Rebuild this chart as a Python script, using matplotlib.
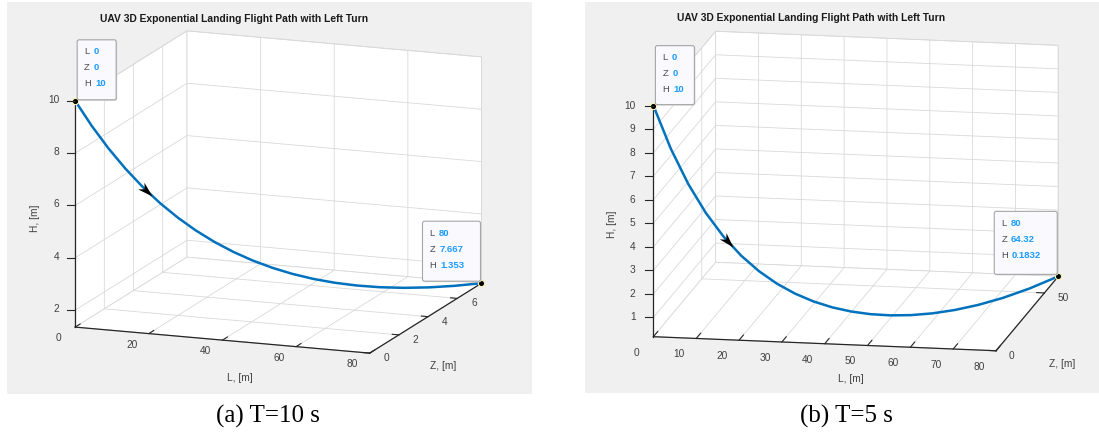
import numpy as np
import matplotlib as mpl
mpl.use('Agg')
import matplotlib.pyplot as plt
from matplotlib.patches import Rectangle, FancyBboxPatch
from matplotlib.lines import Line2D
from matplotlib.path import Path
from matplotlib.markers import MarkerStyle
from matplotlib.transforms import Affine2D, IdentityTransform
from mpl_toolkits.mplot3d import proj3d

plt.rcParams['font.family'] = ['Liberation Sans', 'DejaVu Sans']
plt.rcParams['grid.color'] = '#d9d9d9'
plt.rcParams['grid.linewidth'] = 0.6

# ---------------- data ----------------
L = [0, 4, 8, 12, 16, 20, 24, 28, 32, 36, 40, 44, 48, 52, 56, 60, 64, 68, 72, 76, 80]

# (a) T = 10 s
H_10 = [10.0, 9.048, 8.187, 7.408, 6.703, 6.065, 5.488, 4.966, 4.493, 4.066, 3.679,
        3.329, 3.012, 2.725, 2.466, 2.231, 2.019, 1.827, 1.653, 1.496, 1.353]
Z_10 = [0.0, 0.126, 0.266, 0.420, 0.590, 0.778, 0.987, 1.216, 1.471, 1.752, 2.062,
        2.405, 2.784, 3.203, 3.666, 4.178, 4.744, 5.369, 6.060, 6.823, 7.667]

# (b) T = 5 s
H_5 = [10.0, 8.187, 6.703, 5.488, 4.493, 3.679, 3.012, 2.466, 2.019, 1.653, 1.353,
       1.108, 0.907, 0.743, 0.608, 0.498, 0.408, 0.334, 0.273, 0.224, 0.1832]
Z_5 = [0.0, 0.266, 0.590, 0.987, 1.471, 2.062, 2.784, 3.666, 4.744, 6.060, 7.667,
       9.630, 12.028, 14.956, 18.534, 22.903, 28.239, 34.757, 42.718, 52.441, 64.32]

L_ticks_a = [0, 20, 40, 60, 80]
Z_ticks_a = [0, 2, 4, 6]
H_ticks_a = [2, 4, 6, 8, 10]
L_ticks_b = [0, 10, 20, 30, 40, 50, 60, 70, 80]
Z_ticks_b = [0, 50]
H_ticks_b = [1, 2, 3, 4, 5, 6, 7, 8, 9, 10]

tip_names = ['L', 'Z', 'H']
tip_start = ['0', '0', '10']
tip_end_a = ['80', '7.667', '1.353']
tip_end_b = ['80', '64.32', '0.1832']

title = 'UAV 3D Exponential Landing Flight Path with Left Turn'
captions = ['(a) T=10 s', '(b) T=5 s']

# ---------------- layout (pixels, image coords, y down) ----------------
panels = [
    dict(H=H_10, Z=Z_10, lt=L_ticks_a, zt=Z_ticks_a, ht=H_ticks_a, end=tip_end_a, cap=captions[0],
         elev=13.6, azim=-69.4, aspect=(1, 1.01, 0.74),
         target=[(76, 327), (370, 353), (482, 283), (76, 100), (184, 32), (482, 57)],
         bg=(7, 2, 532, 394), title_xy=(234, 19), cap_xy=(268, 416),
         hlab=(35, 218), llab=(240, 378), zlab=(443, 366),
         tip0=(39, 60), tip1=(58, 60), tick_out=(0.55, 0.28),
         loff=(-17, 11), zoff=(14, 5), hoff=(-16, -1)),
    dict(H=H_5, Z=Z_5, lt=L_ticks_b, zt=Z_ticks_b, ht=H_ticks_b, end=tip_end_b, cap=captions[1],
         elev=12.8, azim=-79.5, aspect=(1, 0.98, 0.68),
         target=[(654, 337), (996, 351), (1058, 277), (654, 105), (715, 32), (1058, 44)],
         bg=(585, 2, 1099, 393), title_xy=(811, 18), cap_xy=(846, 416),
         hlab=(612, 224), llab=(851, 379), zlab=(1062, 364),
         tip0=(39, 59), tip1=(63, 63), tick_out=(0.87, 0.28),
         loff=(-17, 16), zoff=(13, 5), hoff=(-18, 0)),
]

W, HPX = 1099, 432
fig = plt.figure(figsize=(W / 100, HPX / 100), dpi=100, facecolor='white')

blue = '#0072bd'
dark = '#262626'
txt = '#404040'
PIX = IdentityTransform()


def to_px(ax, pts):
    xs, ys, zs = np.asarray(pts, float).T
    x2, y2, _ = proj3d.proj_transform(xs, ys, zs, ax.get_proj())
    return ax.transData.transform(np.column_stack([x2, y2]))


def fit(ax, pts, target):
    # scale / shift the (square) 3d axes so the box corners land on the target pixels
    fig.canvas.draw()
    p = to_px(ax, pts)
    t = np.array([(x, HPX - y) for x, y in target], float)
    bb = ax.get_position().transformed(fig.transFigure)
    c = np.array([bb.x0 + bb.width / 2, bb.y0 + bb.height / 2])
    q = (p - c) / bb.width
    qm, tm = q.mean(0), t.mean(0)
    s = ((q - qm) * (t - tm)).sum() / ((q - qm) ** 2).sum()
    c = tm - s * qm
    ax.set_position([(c[0] - s / 2) / W, (c[1] - s / 2) / HPX, s / W, s / HPX])


def ticklabel(p, off, s, ha):
    fig.text(p[0] + off[0], p[1] - off[1], s, transform=PIX, ha=ha, va='center',
             size=7.3, color=txt)


def datatip(x0, ytop, w, h, vals):
    sh = FancyBboxPatch((x0 + 1, ytop - h - 1), w, h, boxstyle='round,pad=0,rounding_size=2',
                        transform=PIX, fc='#d6d6d6', ec='none', zorder=5)
    box = FancyBboxPatch((x0, ytop - h), w, h, boxstyle='round,pad=0,rounding_size=2',
                         transform=PIX, fc='#f9f9fe', ec='#a6a6a6', lw=0.8, zorder=6)
    fig.add_artist(sh)
    fig.add_artist(box)
    r = fig.canvas.get_renderer()
    for k, (nm, v) in enumerate(zip(tip_names, vals)):
        yy = ytop - 12 - 16 * k
        t1 = fig.text(x0 + 7, yy, nm, transform=PIX, color='#4d4d4d',
                      size=6.8, va='center', zorder=7)
        bb = t1.get_window_extent(r)
        fig.text(bb.x1 + 4, yy, v, transform=PIX, color='#1a9bff',
                 size=6.8, weight='bold', va='center', zorder=7)


for P in panels:
    x0, y0, x1, y1 = P['bg']
    fig.add_artist(Rectangle((x0 / W, 1 - y1 / HPX), (x1 - x0) / W, (y1 - y0) / HPX,
                             transform=fig.transFigure, fc='#f0f0f0', ec='none', zorder=-1))

    ax = fig.add_axes([0.1, 0.1, 0.3, 0.3], projection='3d')
    ax.set_proj_type('ortho')
    ax.computed_zorder = False
    ax.set_facecolor((0, 0, 0, 0))
    ax.view_init(elev=P['elev'], azim=P['azim'])
    ax.set_box_aspect(P['aspect'])

    Hs, Zs = P['H'], P['Z']
    ax.plot(L, Zs, Hs, color=blue, lw=1.8, zorder=2)

    ax.set_xlim(L[0], L[-1])
    ax.set_ylim(0, Zs[-1])
    ax.set_zlim(Hs[-1], Hs[0])
    ax.set_xticks(P['lt'])
    ax.set_yticks(P['zt'])
    ax.set_zticks(P['ht'])
    ax.set_xticklabels([''] * len(P['lt']))
    ax.set_yticklabels([''] * len(P['zt']))
    ax.set_zticklabels([''] * len(P['ht']))
    ax.zaxis.set_ticks_position('lower')

    for axis, fo in zip((ax.xaxis, ax.yaxis, ax.zaxis), P['tick_out'] + (0.0,)):
        axis.set_pane_color((1, 1, 1, 1))
        axis.pane.set_edgecolor('#d9d9d9')
        axis.pane.set_linewidth(0.6)
        axis.line.set_color(dark)
        axis.line.set_linewidth(0.9)
        axis._axinfo['tick'] = {**axis._axinfo['tick'], 'inward_factor': 0.0, 'outward_factor': fo}
    ax.tick_params(axis='both', color=dark)

    corners = [(L[0], 0, Hs[-1]), (L[-1], 0, Hs[-1]), (L[-1], Zs[-1], Hs[-1]),
               (L[0], 0, Hs[0]), (L[0], Zs[-1], Hs[0]), (L[-1], Zs[-1], Hs[0])]
    fit(ax, corners, P['target'])

    # tick labels (and the H tick marks) placed next to the projected tick positions
    for v, p in zip(P['lt'], to_px(ax, [(v, 0, Hs[-1]) for v in P['lt']])):
        ticklabel(p, P['loff'], str(v), 'center')
    for v, p in zip(P['zt'], to_px(ax, [(L[-1], v, Hs[-1]) for v in P['zt']])):
        ticklabel(p, P['zoff'], str(v), 'left')
    for v, p in zip(P['ht'], to_px(ax, [(L[0], 0, v) for v in P['ht']])):
        ticklabel(p, P['hoff'], str(v), 'right')
        fig.add_artist(Line2D([p[0] - 8, p[0]], [p[1], p[1]], transform=PIX, color=dark, lw=0.8))

    # direction arrow on the path
    pa, pb = to_px(ax, [(L[4], Zs[4], Hs[4]), (L[5], Zs[5], Hs[5])])
    ang = np.degrees(np.arctan2(pb[1] - pa[1], pb[0] - pa[0]))
    head = Path([(0, 0), (-1, 0.3), (-0.7, 0), (-1, -0.3), (0, 0)],
                [Path.MOVETO, Path.LINETO, Path.LINETO, Path.LINETO, Path.CLOSEPOLY])
    f = 0.55
    ax.plot([L[4] + f * (L[5] - L[4])], [Zs[4] + f * (Zs[5] - Zs[4])], [Hs[4] + f * (Hs[5] - Hs[4])],
            ls='none', marker=MarkerStyle(head, transform=Affine2D().rotate_deg(ang)),
            ms=22, color='k', mew=0, zorder=3)

    # data tip markers
    for i in (0, -1):
        ax.plot([L[i]], [Zs[i]], [Hs[i]], ls='none', marker='o', ms=4.5,
                mfc='k', mec='#fff5b8', mew=0.8, zorder=4)

    s0, s1 = to_px(ax, [(L[0], Zs[0], Hs[0]), (L[-1], Zs[-1], Hs[-1])])
    w0, h0 = P['tip0']
    datatip(s0[0] + 2, s0[1] + 1 + h0, w0, h0, tip_start)
    w1, h1 = P['tip1']
    datatip(s1[0] - 1 - w1, s1[1] + 2 + h1, w1, h1, P['end'])

    tx, ty = P['title_xy']
    fig.text(tx / W, 1 - ty / HPX, title, ha='center', va='center', size=7.4,
             weight='bold', color='#1a1a1a')
    hx, hy = P['hlab']
    fig.text(hx / W, 1 - hy / HPX, 'H, [m]', rotation=90, ha='center', va='center', size=7.3, color=txt)
    lx, ly = P['llab']
    fig.text(lx / W, 1 - ly / HPX, 'L, [m]', ha='center', va='center', size=7.3, color=txt)
    zx, zy = P['zlab']
    fig.text(zx / W, 1 - zy / HPX, 'Z, [m]', ha='center', va='center', size=7.3, color=txt)
    cx, cy = P['cap_xy']
    fig.text(cx / W, 1 - cy / HPX, P['cap'], ha='center', va='center', size=18,
             family='Liberation Serif', color='black')

fig.savefig('out.png', dpi=100, facecolor='white')
